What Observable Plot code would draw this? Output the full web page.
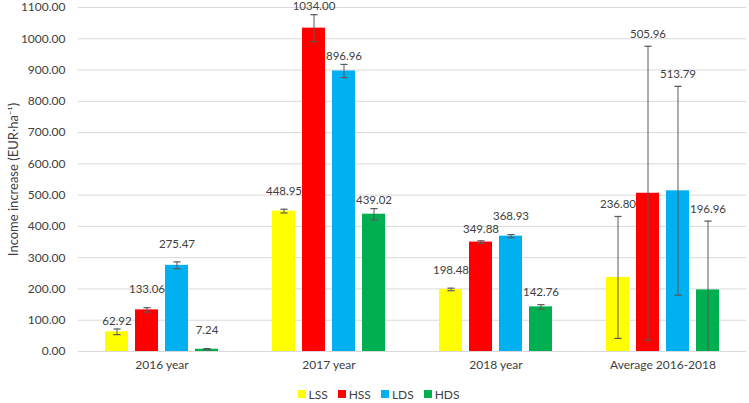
<!DOCTYPE html>
<html>
<head>
<meta charset="utf-8">
<script src="https://cdn.jsdelivr.net/npm/d3@7"></script>
<script src="https://cdn.jsdelivr.net/npm/@observablehq/plot@0.6"></script>
<style>
  html, body { margin: 0; padding: 0; background: #fff; }
  body { width: 749px; height: 403px; overflow: hidden; font-family: Lato, "Open Sans", sans-serif; }
  #legend { display: flex; justify-content: center; align-items: center; gap: 10px; height: 34px; font-size: 12px; color: #404040; padding-left: 8px; }
  #legend .item { display: flex; align-items: center; gap: 3px; }
  #legend .sw { width: 8px; height: 8px; display: inline-block; }
</style>
</head>
<body>
<div id="chart"></div>
<div id="legend"></div>
<script>
const groups = ["2016 year", "2017 year", "2018 year", "Average 2016-2018"];
const seriesNames = ["LSS", "HSS", "LDS", "HDS"];
const seriesColors = ["#FFFF00", "#FF0000", "#00B0F0", "#00B050"];
// values per series, in group order
const LSS = [62.92, 448.95, 198.48, 236.80];
const HSS = [133.06, 1034.00, 349.88, 505.96];
const LDS = [275.47, 896.96, 368.93, 513.79];
const HDS = [7.24, 439.02, 142.76, 196.96];
// error half-widths (estimated)
const LSS_err = [9, 6, 4, 195];
const HSS_err = [7, 43, 4, 470];
const LDS_err = [11, 21, 5, 334];
const HDS_err = [2, 18, 7, 220];
const yTicks = d3.range(0, 1101, 100);

const vals = [LSS, HSS, LDS, HDS];
const errs = [LSS_err, HSS_err, LDS_err, HDS_err];
const rows = [];
groups.forEach((g, gi) => {
  seriesNames.forEach((s, si) => {
    const v = vals[si][gi], e = errs[si][gi];
    rows.push({group: g, gi, series: s, si, value: v, lo: Math.max(0, v - e), hi: v + e, hasLo: v - e > 0});
  });
});

// label placement styling (as in the original, some labels sit lower / higher)
const lowLabels = new Set(["1|1", "1|2", "1|3", "0|0"]);
const highLabels = new Set(["0|1", "0|2", "0|3", "1|0", "2|0", "2|2"]);
const keyOf = d => d.gi + "|" + d.si;

const capSymbol = {
  draw(context, size) {
    const w = 3.6;
    context.moveTo(-w, 0);
    context.lineTo(w, 0);
  }
};

const labelOpts = {fx: "group", x: "series", y: "hi", text: d => d.value.toFixed(2), fill: "#404040", fontSize: 11.5};

const chart = Plot.plot({
  width: 749,
  height: 377,
  marginLeft: 76,
  marginRight: 2,
  marginTop: 7,
  marginBottom: 26,
  style: {fontFamily: "Lato, 'Open Sans', sans-serif", fontSize: "12px", color: "#404040", background: "#fff"},
  fx: {domain: groups, label: null, tickSize: 0, tickPadding: 9, paddingInner: 0, paddingOuter: 0},
  x: {domain: seriesNames, axis: null, paddingInner: 0.25, paddingOuter: 0.85},
  y: {domain: [0, 1100], ticks: yTicks, tickFormat: d => d.toFixed(2), tickSize: 0, tickPadding: 13,
      label: "Income increase (EUR·ha⁻¹)", labelAnchor: "center", labelArrow: "none", labelOffset: 70},
  color: {domain: seriesNames, range: seriesColors},
  marks: [
    Plot.ruleY(yTicks, {y: d => d, stroke: "#d9d9d9", strokeWidth: 1}),
    Plot.barY(rows, {fx: "group", x: "series", y: "value", fill: "series"}),
    Plot.ruleX(rows, {fx: "group", x: "series", y1: "lo", y2: "hi", stroke: "#595959", strokeWidth: 1}),
    Plot.dot(rows, {fx: "group", x: "series", y: "hi", symbol: capSymbol, stroke: "#595959", strokeWidth: 1.2, r: 3}),
    Plot.dot(rows.filter(d => d.hasLo), {fx: "group", x: "series", y: "lo", symbol: capSymbol, stroke: "#595959", strokeWidth: 1.2, r: 3}),
    Plot.text(rows.filter(d => lowLabels.has(keyOf(d))), {...labelOpts, dy: -8}),
    Plot.text(rows.filter(d => highLabels.has(keyOf(d))), {...labelOpts, dy: -18}),
    Plot.text(rows.filter(d => !lowLabels.has(keyOf(d)) && !highLabels.has(keyOf(d))), {...labelOpts, dy: -12})
  ]
});
chart.querySelectorAll('[aria-label="y-axis label"] text').forEach(t => t.setAttribute("font-size", "13"));
document.getElementById("chart").appendChild(chart);

const legend = document.getElementById("legend");
seriesNames.forEach((s, i) => {
  const item = document.createElement("span");
  item.className = "item";
  const sw = document.createElement("span");
  sw.className = "sw";
  sw.style.background = seriesColors[i];
  const t = document.createElement("span");
  t.textContent = s;
  item.appendChild(sw);
  item.appendChild(t);
  legend.appendChild(item);
});
</script>
</body>
</html>
